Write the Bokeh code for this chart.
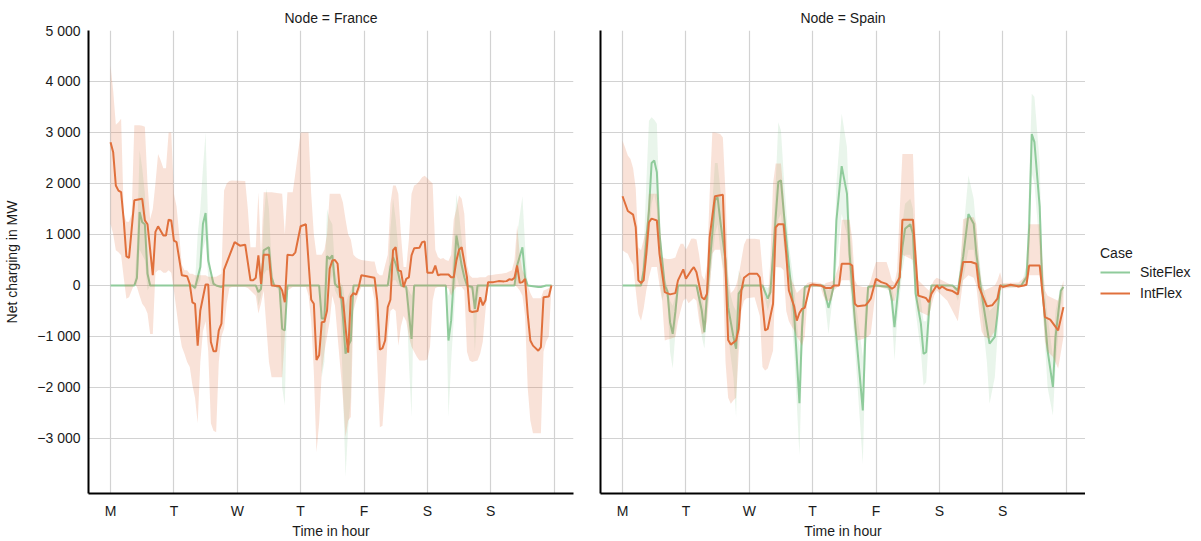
from bokeh.plotting import figure
from bokeh.layouts import row
from bokeh.models import Range1d, FixedTicker, Legend, LegendItem
from bokeh.embed import file_html
from bokeh.resources import INLINE

# ---------------- data (hour, MW) ----------------
day_labels = ["M", "T", "W", "T", "F", "S", "S", ""]
day_ticks = [0, 24, 48, 72, 96, 120, 144, 168]
y_ticks = [-3000, -2000, -1000, 0, 1000, 2000, 3000, 4000, 5000]
y_tick_labels = ["\u22123 000", "\u22122 000", "\u22121 000", "0", "1 000", "2 000", "3 000", "4 000", "5 000"]
cases = ["SiteFlex", "IntFlex"]
nodes = ["France", "Spain"]

# France, SiteFlex mean line
fr_site_line = [(0,0),(9,0),(10,150),(11,1440),(12,1240),(13,1200),(14,230),(15,0),(31,0),(32,-50),(34,360),(35,1210),(36,1420),(37,490),(39,30),(40,0),(42,-30),(43,0),(55,0),(56,-130),(57,-65),(58,690),(60,750),(61,160),(62,0),(64,-30),(65,-850),(66,-880),(67,0),(79,0),(80,-650),(81,-650),(82,575),(83,520),(84,590),(85,30),(86,-30),(87,-30),(88,-600),(89,-1340),(90,-1180),(91,-1080),(92,0),(105,0),(106,360),(107,555),(108,425),(109,230),(110,0),(112,-30),(114,-1050),(115,0),(127,0),(128,-1080),(129,-690),(131,980),(132,690),(133,390),(134,160),(135,0),(137,-30),(138,-460),(139,0),(153,0),(154,390),(156,750),(157,160),(158,0),(162,-30),(163,-30),(165,0),(167,0)]
# France, SiteFlex band (hour, low, high)
fr_site_band = [(0,0,0),(9,0,0),(10,0,800),(11,700,2650),(12,600,2300),(13,500,1800),(14,-100,600),(15,0,0),(31,0,0),(32,-100,50),(33,0,1000),(34,100,1500),(35,700,2300),(36,900,3000),(37,150,1100),(38,0,200),(39,0,100),(40,0,0),(55,0,0),(56,-400,0),(57,-200,50),(58,200,1300),(59,300,1900),(60,300,1500),(61,0,400),(62,0,0),(64,-100,0),(65,-2000,-200),(66,-2350,-300),(67,0,0),(79,0,0),(80,-1800,0),(81,-1500,0),(82,0,1500),(83,0,1300),(84,200,1200),(85,-100,300),(86,-200,50),(87,-300,50),(88,-2000,0),(89,-3750,-400),(90,-2800,-200),(91,-2200,-100),(92,0,0),(105,0,0),(106,0,1100),(107,100,1700),(108,100,1300),(109,0,700),(110,0,0),(112,-100,0),(113,-1500,-100),(114,-2580,-200),(115,0,0),(127,0,0),(128,-2580,-200),(129,-1500,0),(131,200,1800),(132,0,1400),(133,0,900),(134,0,400),(135,0,0),(137,-100,0),(138,-1300,0),(139,-300,0),(140,0,0),(153,0,0),(154,0,1000),(156,100,1750),(157,0,800),(158,0,0),(167,0,0)]

# France, IntFlex mean line
fr_int_line = [(0,2810),(1,2610),(2,1960),(3,1860),(4,1830),(5,1275),(6,570),(7,540),(9,1670),(12,1700),(13,1275),(14,1200),(16,200),(17,1050),(18,1160),(20,980),(21,980),(22,1290),(23,1275),(24,880),(25,850),(27,200),(29,180),(30,30),(31,-330),(32,-360),(33,-1180),(34,-490),(36,20),(37,20),(38,-1110),(39,-1290),(40,-1290),(41,-880),(42,-750),(43,310),(47,850),(49,780),(51,800),(53,100),(54,100),(55,150),(56,590),(57,30),(58,600),(60,600),(61,0),(64,-10),(65,-100),(66,-330),(67,600),(69,590),(70,650),(72,1160),(74,1200),(76,-280),(77,-360),(78,-1460),(79,-1370),(80,-720),(81,-710),(82,-490),(83,330),(84,490),(85,500),(86,425),(87,-230),(88,-240),(89,-820),(90,-1320),(91,-220),(92,-150),(93,-180),(94,-30),(95,200),(100,150),(101,-290),(102,-1260),(103,-1230),(104,-1080),(105,-425),(106,-280),(107,690),(108,750),(109,295),(110,280),(111,-30),(112,130),(113,160),(114,590),(115,730),(117,740),(118,850),(119,860),(120,250),(122,250),(123,390),(124,200),(125,215),(128,215),(129,160),(130,160),(131,490),(132,700),(133,750),(135,160),(136,-500),(137,-520),(139,-500),(140,-230),(141,-390),(142,-290),(143,65),(145,65),(147,85),(149,80),(150,85),(151,120),(152,110),(153,150),(154,390),(155,50),(156,65),(157,130),(158,-560),(159,-1080),(160,-1180),(162,-1280),(163,-1210),(164,-230),(166,-215),(167,0)]
# France, IntFlex band (hour, low, high)
fr_int_band = [(0,1210,4310),(1,1010,3820),(2,690,3150),(3,650,3200),(4,590,3270),(5,150,1400),(6,-260,1250),(7,-230,1250),(8,-100,1400),(9,30,3140),(10,-30,3140),(11,-200,3140),(12,-360,3130),(13,-425,3110),(14,-550,2000),(15,-950,1300),(16,-950,1500),(17,250,2000),(18,300,2580),(19,300,2450),(20,250,2300),(21,250,2300),(22,300,3000),(23,250,3000),(24,-100,1800),(25,-500,1550),(26,-900,1000),(27,-1200,400),(28,-1340,300),(29,-1500,300),(30,-1600,230),(31,-1950,230),(32,-2200,200),(33,-2700,200),(34,-1500,200),(35,-900,200),(36,-700,200),(37,-1300,170),(38,-2700,170),(39,-2850,170),(40,-2880,170),(41,-1500,200),(42,-1000,230),(43,-850,1860),(44,-350,2000),(45,-50,2050),(46,-30,2060),(51,-30,2050),(52,-50,1500),(53,-100,750),(55,-200,750),(56,-550,1830),(57,-350,600),(58,-100,1830),(59,-800,1830),(60,-1500,1830),(61,-1800,1830),(65,-1800,1800),(66,-1000,1000),(67,-100,1830),(69,-30,1830),(70,-30,2200),(71,-30,2600),(72,-30,3000),(74,-30,3000),(75,-200,3000),(76,-700,1800),(77,-1700,1000),(78,-3270,600),(79,-2700,600),(80,-1700,600),(81,-1300,700),(82,-1000,1000),(83,-700,1800),(84,-200,1800),(85,-400,1800),(86,-1000,1800),(87,-1600,1800),(88,-2200,1630),(89,-2970,1300),(90,-2650,1000),(91,-2580,900),(92,-500,600),(93,-300,550),(94,-150,520),(95,-30,500),(99,-30,470),(100,-300,470),(101,-1500,250),(102,-2780,200),(103,-2750,200),(104,-2000,400),(105,-1000,600),(106,-500,1600),(107,-450,1960),(108,-500,1960),(109,-1180,1800),(110,-800,1000),(111,-600,360),(112,-700,360),(113,-1000,900),(114,-1200,1800),(115,-1300,1960),(116,-1400,1990),(117,-1470,2050),(118,-1470,2120),(119,-1470,2150),(120,-1450,2100),(121,-1200,2050),(122,-300,2000),(123,-50,700),(124,-30,560),(125,-30,520),(126,-30,540),(127,-30,500),(128,-60,480),(129,-200,600),(130,-100,1300),(131,-30,1500),(132,-30,1765),(133,-30,1700),(134,-100,1400),(135,-1300,400),(136,-1470,200),(137,-1500,150),(139,-1470,150),(140,-1340,160),(141,-1100,160),(142,-500,160),(143,-30,200),(144,0,200),(146,0,220),(148,0,230),(150,0,250),(152,0,300),(153,0,500),(154,-30,1180),(155,-100,600),(156,-200,300),(157,-600,200),(158,-2000,0),(159,-2650,-150),(160,-2900,-250),(163,-2900,-250),(164,-1300,-100),(165,-1100,-80),(166,-1000,-50),(167,-30,30)]

# Spain, SiteFlex mean line
es_site_line = [(0,0),(7,0),(8,290),(10,1470),(11,2400),(12,2450),(13,2220),(14,1010),(16,0),(17,-110),(18,-720),(19,-950),(20,-520),(21,0),(28,0),(30,-490),(31,-915),(32,-160),(34,1010),(35,1670),(36,1730),(37,1275),(39,490),(40,-425),(42,-1010),(43,-1240),(44,-160),(46,0),(53,0),(55,-260),(56,-130),(58,1340),(59,2030),(60,2060),(61,1470),(63,390),(65,-560),(67,-2310),(68,-820),(69,-30),(71,0),(76,0),(78,-440),(79,-230),(80,0),(81,1275),(83,2340),(85,1800),(86,620),(88,-690),(91,-2450),(92,-915),(93,-30),(96,0),(101,-30),(102,-290),(103,-820),(104,-290),(106,750),(107,1110),(109,1200),(110,1010),(111,-160),(113,-750),(114,-1340),(115,-1310),(116,-560),(117,0),(125,0),(127,-100),(129,560),(131,1400),(133,1210),(134,620),(136,-160),(138,-820),(139,-1140),(141,-1010),(142,-560),(143,0),(151,0),(153,160),(154,1140),(155,2970),(156,2810),(158,1540),(159,-30),(161,-1280),(163,-1990),(164,-1010),(166,-100),(167,-30)]
# Spain, SiteFlex band (hour, low, high)
es_site_band = [(0,0,0),(7,0,0),(8,100,700),(9,400,2000),(10,800,3230),(11,1600,3300),(12,1800,3250),(13,1500,3170),(14,300,1540),(15,-300,500),(16,-100,100),(17,-300,0),(18,-1300,-300),(19,-1630,-400),(20,-950,-200),(21,0,0),(28,0,0),(29,-500,0),(30,-1000,-200),(31,-1240,-500),(32,-500,100),(34,500,1600),(35,1000,2400),(36,1200,2400),(37,700,1900),(39,100,900),(40,-1000,0),(42,-1800,-400),(43,-2580,-500),(44,-600,300),(46,0,0),(53,0,0),(55,-500,-50),(56,-300,0),(58,600,2000),(59,1300,3200),(60,1400,3040),(61,800,2200),(63,0,800),(65,-1300,0),(67,-3330,-1300),(68,-1500,-300),(69,-100,0),(71,0,0),(76,0,0),(78,-950,-100),(79,-500,0),(80,0,0),(81,400,2000),(83,1400,3370),(85,1000,2710),(86,100,1280),(88,-1200,-200),(91,-3500,-1400),(92,-1500,-300),(93,-100,0),(96,0,0),(101,-100,0),(102,-600,0),(103,-1470,-300),(104,-700,0),(106,300,1200),(107,600,1600),(109,600,1700),(110,400,1500),(111,-500,200),(113,-1300,-300),(114,-1960,-700),(115,-1900,-700),(116,-1000,-200),(117,0,0),(125,0,0),(127,-300,0),(129,100,1000),(131,700,2160),(133,700,1700),(134,200,1100),(136,-500,100),(138,-1500,-300),(139,-2320,-500),(141,-1800,-400),(142,-1000,-100),(143,0,0),(151,0,0),(153,0,400),(154,400,2000),(155,2200,3760),(156,2000,3700),(158,700,2400),(159,-300,300),(161,-2000,-600),(163,-2550,-1400),(164,-1600,-500),(166,-400,0),(167,-100,0)]

# Spain, IntFlex mean line
es_int_line = [(0,1750),(2,1460),(4,1390),(5,1140),(6,100),(7,50),(8,100),(9,620),(10,1240),(11,1310),(13,1275),(14,620),(16,-130),(18,-175),(20,-150),(21,100),(23,315),(24,130),(26,295),(27,360),(28,260),(30,-230),(31,-275),(32,-160),(33,950),(35,1750),(38,1780),(39,330),(40,-1070),(41,-1160),(43,-1080),(44,-850),(45,-100),(46,150),(48,230),(51,230),(52,160),(54,-880),(55,-850),(57,-360),(58,1140),(59,1200),(61,1200),(62,620),(63,-100),(65,-410),(66,-690),(67,-540),(68,-460),(69,-440),(71,0),(72,20),(75,0),(77,-50),(79,-50),(80,0),(82,0),(83,425),(86,425),(87,390),(88,-360),(89,-410),(92,-390),(93,-330),(94,-260),(96,130),(98,65),(100,30),(102,-65),(103,-30),(105,160),(106,1290),(110,1290),(112,-200),(114,-230),(115,-250),(116,-330),(117,-160),(119,0),(120,-65),(121,-20),(123,-85),(125,-110),(127,-175),(129,460),(132,460),(134,425),(135,-30),(138,-410),(140,-390),(142,-260),(143,0),(144,-30),(147,15),(150,-20),(152,0),(153,15),(154,390),(158,390),(160,-620),(162,-670),(165,-880),(167,-425)]
# Spain, IntFlex band (hour, low, high)
es_int_band = [(0,690,2840),(1,650,2700),(2,620,2550),(3,500,2480),(4,400,2300),(5,-100,1900),(6,-560,750),(7,-690,690),(8,-450,900),(9,-100,1100),(10,160,1800),(11,360,1800),(13,360,1800),(14,0,1300),(15,-300,560),(16,-1080,530),(17,-1060,520),(18,-1050,520),(19,-1030,530),(20,-1010,550),(21,-700,700),(22,-490,820),(23,-300,820),(24,-250,700),(25,-350,800),(26,-300,915),(27,-250,920),(28,-300,900),(29,-700,600),(30,-950,200),(31,-930,100),(32,-700,400),(33,-100,1800),(34,620,3000),(35,700,3000),(37,700,2970),(38,300,2900),(39,-1500,1800),(40,-2200,200),(41,-2320,-150),(42,-2250,-100),(43,-2200,0),(44,-1340,200),(45,-500,500),(46,-300,800),(47,-250,915),(50,-230,915),(52,-600,900),(53,-1600,300),(54,-1670,-200),(55,-1630,-300),(56,-1450,500),(57,-1280,2000),(58,360,2390),(60,350,2390),(61,300,1800),(62,-500,1000),(63,-700,300),(64,-800,100),(65,-880,0),(66,-1000,-150),(67,-1080,-100),(68,-1180,-50),(69,-1000,-20),(70,-300,50),(71,-50,70),(72,-30,70),(75,-30,50),(76,-200,0),(77,-300,50),(79,-300,80),(80,-100,100),(82,0,400),(83,100,1290),(86,100,1290),(87,-200,900),(88,-900,100),(89,-1080,0),(91,-1050,-30),(93,-1000,-30),(94,-950,100),(95,-500,300),(96,-30,460),(100,-50,460),(101,-100,300),(102,-300,100),(103,-300,50),(104,-100,300),(105,-50,1500),(106,600,2580),(110,500,2580),(111,-100,1000),(112,-500,100),(114,-550,0),(116,-600,-100),(117,-400,0),(118,-200,100),(119,-100,150),(121,-200,100),(123,-300,50),(125,-500,0),(127,-700,-50),(128,-300,400),(129,100,1300),(131,200,1340),(133,150,1340),(134,0,1200),(135,-500,500),(136,-900,0),(137,-1000,-100),(139,-1050,-50),(141,-900,0),(142,-500,100),(143,-100,260),(144,-60,50),(150,-40,60),(153,0,200),(154,200,1200),(158,200,1200),(159,-300,500),(160,-1100,-100),(161,-1300,-200),(163,-1400,-250),(165,-1630,-300),(167,-1010,100)]

# ---------------- styling ----------------
GREEN = "#8fcb9b"
ORANGE = "#e0703c"
FONT = "Liberation Sans"
TXT = "#1a1a1a"
X0, X1 = -8.35, 175.35
Y0, Y1 = -4080, 5000


def cols(pairs):
    return [p[0] for p in pairs], [p[1] for p in pairs]


def bcols(trips):
    return [t[0] for t in trips], [t[1] for t in trips], [t[2] for t in trips]


def make_fig(title, width, bl, br, show_y_labels):
    p = figure(width=width, height=541, x_range=Range1d(X0, X1), y_range=Range1d(Y0, Y1),
               output_backend="svg", toolbar_location=None,
               min_border_left=bl, min_border_right=br, min_border_top=30, min_border_bottom=48,
               title=title)
    p.title.align = "center"
    p.title.text_font = FONT
    p.title.text_font_size = "14px"
    p.title.text_font_style = "normal"
    p.title.text_color = TXT
    p.outline_line_color = None
    p.background_fill_color = "white"
    p.border_fill_color = "white"

    p.xaxis.ticker = FixedTicker(ticks=day_ticks)
    p.xaxis.major_label_overrides = {t: l for t, l in zip(day_ticks, day_labels)}
    p.xaxis.axis_label = "Time in hour"
    p.yaxis.ticker = FixedTicker(ticks=y_ticks)
    if show_y_labels:
        p.yaxis.major_label_overrides = {t: l for t, l in zip(y_ticks, y_tick_labels)}
        p.yaxis.axis_label = "Net charging in MW"
    else:
        p.yaxis.major_label_overrides = {t: "" for t in y_ticks}
    for ax in p.xaxis + p.yaxis:
        ax.axis_line_color = "black"
        ax.axis_line_width = 2
        ax.major_tick_line_color = None
        ax.minor_tick_line_color = None
        ax.major_tick_out = 0
        ax.major_tick_in = 0
        ax.major_label_text_font = FONT
        ax.major_label_text_font_size = "14px"
        ax.major_label_text_color = TXT
        ax.axis_label_text_font = FONT
        ax.axis_label_text_font_size = "14px"
        ax.axis_label_text_font_style = "normal"
        ax.axis_label_text_color = TXT
    p.xaxis.major_label_standoff = 9
    p.xaxis.axis_label_standoff = 1
    p.yaxis.major_label_standoff = 8
    p.yaxis.axis_label_standoff = 14
    p.xgrid.ticker = FixedTicker(ticks=day_ticks)
    p.ygrid.ticker = FixedTicker(ticks=y_ticks)
    for g in (p.xgrid[0], p.ygrid[0]):
        g.grid_line_color = "#d2d2d2"
        g.grid_line_width = 1.2
    return p


def draw(p, site_line, site_band, int_line, int_band):
    h, lo, hi = bcols(site_band)
    p.varea(x=h, y1=lo, y2=hi, fill_color=GREEN, fill_alpha=0.2)
    h, v = cols(site_line)
    p.line(h, v, line_color=GREEN, line_width=2)
    h, lo, hi = bcols(int_band)
    p.varea(x=h, y1=lo, y2=hi, fill_color=ORANGE, fill_alpha=0.2)
    h, v = cols(int_line)
    p.line(h, v, line_color=ORANGE, line_width=2)


p1 = make_fig("Node = " + nodes[0], 583, 88, 10, True)
draw(p1, fr_site_line, fr_site_band, fr_int_line, fr_int_band)

p2 = make_fig("Node = " + nodes[1], 502, 17, 0, False)
draw(p2, es_site_line, es_site_band, es_int_line, es_int_band)

# legend panel (a bare figure holding only the legend); the key lines sit outside its range
p3 = figure(width=116, height=541, x_range=Range1d(0, 1), y_range=Range1d(0, 1),
            output_backend="svg", toolbar_location=None, x_axis_type=None, y_axis_type=None,
            min_border_left=0, min_border_right=0, min_border_top=0, min_border_bottom=0)
p3.outline_line_color = None
p3.xgrid.visible = False
p3.ygrid.visible = False
lg_site = p3.line([-5, -4], [-5, -5], line_color=GREEN, line_width=2)
lg_int = p3.line([-5, -4], [-5, -5], line_color=ORANGE, line_width=2)

legend = Legend(items=[LegendItem(label=cases[0], renderers=[lg_site]),
                       LegendItem(label=cases[1], renderers=[lg_int])],
                title="Case", location=(15, 190))
legend.title_text_font = FONT
legend.title_text_font_size = "14px"
legend.title_text_font_style = "normal"
legend.title_text_color = TXT
legend.label_text_font = FONT
legend.label_text_font_size = "14px"
legend.label_text_color = TXT
legend.border_line_color = None
legend.background_fill_alpha = 0
legend.glyph_width = 30
legend.label_standoff = 10
legend.spacing = 1
legend.padding = 0
legend.margin = 0
legend.title_standoff = 1
p3.add_layout(legend, "center")

layout = row(p1, p2, p3)
open("out.html", "w").write(file_html(layout, INLINE))
